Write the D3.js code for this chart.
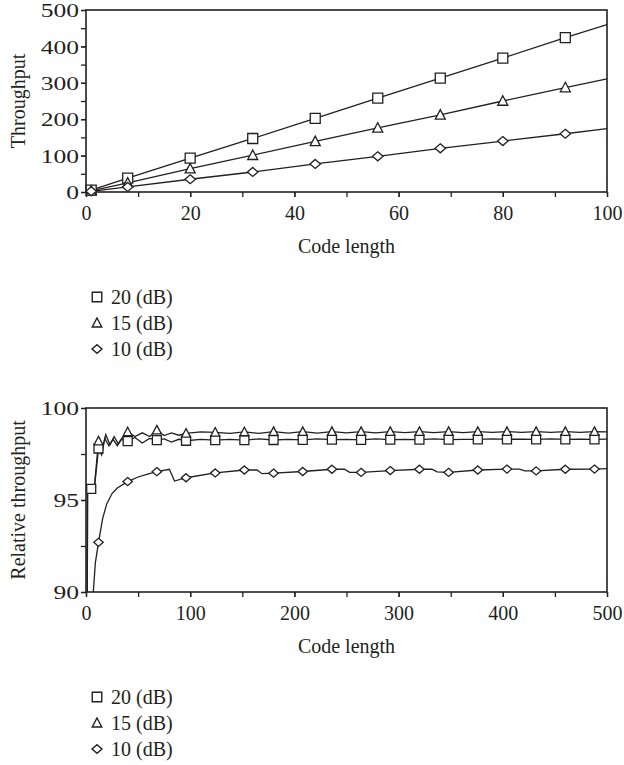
<!DOCTYPE html>
<html><head><meta charset="utf-8">
<script src="https://cdn.jsdelivr.net/npm/d3@7"></script>
<style>
html,body{margin:0;padding:0;background:#fff;}
svg text{font-family:"Liberation Serif","Times New Roman",serif;fill:#231f20;}
</style></head>
<body>
<svg id="c" width="624" height="765"></svg>
<script>
// ---------- DATA ----------
const seriesNames = ["20 (dB)", "15 (dB)", "10 (dB)"];
const seriesSymbols = ["square", "triangle", "diamond"];

// Top chart: Throughput vs code length
const topX      = [1, 8, 20, 32, 44, 56, 68, 80, 92, 100];
const topMarkerX = [1, 8, 20, 32, 44, 56, 68, 80, 92];
const top20dB   = [5, 38, 93, 147, 202, 258, 313, 368, 424, 460];
const top15dB   = [3, 25, 64, 101, 139, 176, 212, 250, 287, 311];
const top10dB   = [2, 14, 35, 55, 77, 98, 120, 140, 160, 174];
const topXTicks = [0, 20, 40, 60, 80, 100];
const topYTicks = [0, 100, 200, 300, 400, 500];

// Bottom chart: Relative throughput vs code length
const bot20X = [1, 1.5, 5, 8, 12, 15, 18, 22, 26, 30, 34, 40, 47, 54, 61, 68, 75, 82, 89, 96, 110, 124, 138, 152, 166, 180, 194, 208, 222, 236, 250, 264, 278, 292, 306, 320, 334, 348, 362, 376, 390, 404, 418, 432, 446, 460, 474, 488, 500];
const bot20Y = [85, 95.5, 95.6, 95.6, 97.8, 97.45, 98.35, 97.95, 98.3, 97.95, 98.3, 98.2, 98.4, 98.1, 98.35, 98.25, 98.32, 98.15, 98.3, 98.22, 98.3, 98.25, 98.3, 98.25, 98.32, 98.26, 98.3, 98.27, 98.32, 98.28, 98.3, 98.27, 98.32, 98.28, 98.3, 98.28, 98.32, 98.28, 98.3, 98.29, 98.32, 98.3, 98.31, 98.29, 98.32, 98.3, 98.31, 98.3, 98.31];
const bot15X = [1, 1.5, 8, 12, 15, 19, 23, 27, 31, 35, 40, 47, 54, 61, 68, 75, 82, 89, 96, 110, 124, 138, 152, 166, 180, 194, 208, 222, 236, 250, 264, 278, 292, 306, 320, 334, 348, 362, 376, 390, 404, 418, 432, 446, 460, 474, 488, 500];
const bot15Y = [85, 95.4, 95.7, 98.2, 97.6, 98.55, 98.0, 98.45, 98.05, 98.4, 98.7, 98.45, 98.65, 98.45, 98.8, 98.5, 98.65, 98.52, 98.62, 98.7, 98.68, 98.62, 98.7, 98.62, 98.72, 98.64, 98.72, 98.64, 98.72, 98.65, 98.72, 98.65, 98.72, 98.66, 98.72, 98.66, 98.72, 98.66, 98.72, 98.67, 98.72, 98.67, 98.72, 98.67, 98.72, 98.68, 98.72, 98.7];
const bot10X = [6, 7, 9, 12, 16, 20, 25, 30, 40, 50, 60, 68, 80, 85, 96, 124, 152, 164, 169, 180, 208, 236, 248, 253, 264, 292, 320, 332, 337, 348, 376, 404, 416, 421, 432, 460, 488, 500];
const bot10Y = [88, 90, 91.6, 92.7, 94.0, 94.8, 95.35, 95.65, 96.0, 96.25, 96.42, 96.54, 96.67, 96.03, 96.21, 96.47, 96.63, 96.63, 96.43, 96.46, 96.55, 96.67, 96.67, 96.5, 96.5, 96.6, 96.67, 96.67, 96.53, 96.5, 96.63, 96.68, 96.68, 96.58, 96.58, 96.67, 96.68, 96.7];
const bot20MarkerX = [5, 12, 40, 68, 96, 124, 152, 180, 208, 236, 264, 292, 320, 348, 376, 404, 432, 460, 488];
const botMarkerX   = [12, 40, 68, 96, 124, 152, 180, 208, 236, 264, 292, 320, 348, 376, 404, 432, 460, 488];
const botXTicks = [0, 100, 200, 300, 400, 500];
const botYTicks = [90, 95, 100];

// ---------- DRAWING ----------
const svg = d3.select("#c");
const INK = "#231f20";
const FS = 20;
const YFS = 18.5, YSX = 1.38;

function symPath(type, s) {
  const h = s / 2;
  if (type === "square") return `M${-h},${-h}H${h}V${h}H${-h}Z`;
  if (type === "triangle") return `M0,${-h*1.05}L${h*1.0},${h*0.85}L${-h*1.0},${h*0.85}Z`;
  return `M0,${-h*0.9}L${h*1.05},0L0,${h*0.9}L${-h*1.05},0Z`;
}

function panel(cfg) {
  const g = svg.append("g");
  const x = d3.scaleLinear().domain(cfg.xDomain).range([86, 607]);
  const y = d3.scaleLinear().domain(cfg.yDomain).range([cfg.bottom, cfg.top]);
  const id = "clip" + cfg.name;
  svg.append("clipPath").attr("id", id).append("rect")
    .attr("x", 86).attr("y", cfg.top).attr("width", 521).attr("height", cfg.bottom - cfg.top);

  const xa = g.append("g").attr("transform", `translate(0,${cfg.bottom})`)
    .call(d3.axisBottom(x).tickValues(cfg.xMinor).tickSize(5).tickSizeOuter(0).tickFormat(""));
  const xl = g.append("g").attr("transform", `translate(0,${cfg.bottom})`)
    .call(d3.axisBottom(x).tickValues(cfg.xTicks).tickSize(5).tickSizeOuter(0).tickFormat(d3.format("d")));
  const ya = g.append("g").attr("transform", `translate(86,0)`)
    .call(d3.axisLeft(y).tickValues(cfg.yMinor).tickSize(5).tickSizeOuter(0).tickFormat(""));
  const yl = g.append("g").attr("transform", `translate(86,0)`)
    .call(d3.axisLeft(y).tickValues(cfg.yTicks).tickSize(5).tickSizeOuter(0).tickFormat(d3.format("d")));
  [xa, xl, ya, yl].forEach(a => {
    a.select(".domain").remove();
    a.selectAll("line").attr("stroke", INK).attr("stroke-width", 1.3);
  });
  xl.selectAll("text").attr("y", 21).attr("dy", "0.35em").attr("font-size", FS)
    .attr("fill", INK).style("font-family", "Liberation Serif");
  yl.selectAll("text").attr("x", -7 / YSX).attr("dy", "0.36em").attr("font-size", YFS)
    .attr("transform", `scale(${YSX},1)`).attr("fill", INK).style("font-family", "Liberation Serif");

  g.append("rect").attr("x", 86).attr("y", cfg.top).attr("width", 521)
    .attr("height", cfg.bottom - cfg.top).attr("fill", "none")
    .attr("stroke", INK).attr("stroke-width", 1.6);

  g.append("text").attr("x", 346.5).attr("y", cfg.bottom + 54).attr("dy", "0.35em")
    .attr("text-anchor", "middle").attr("font-size", FS).text("Code length");
  g.append("text").attr("transform", `translate(18,${(cfg.top + cfg.bottom) / 2}) rotate(-90)`)
    .attr("dy", "0.35em").attr("text-anchor", "middle").attr("font-size", FS).text(cfg.yTitle);

  const line = d3.line().x(d => x(d[0])).y(d => y(d[1]));
  const lg = g.append("g").attr("clip-path", `url(#${id})`);
  cfg.series.forEach((s, i) => {
    const pts = s.x.map((v, k) => [v, s.y[k]]);
    lg.append("path").datum(pts).attr("d", line).attr("fill", "none")
      .attr("stroke", INK).attr("stroke-width", 1.3);
  });
  cfg.series.forEach((s, i) => {
    const pts = s.x.map((v, k) => [v, s.y[k]]).filter(p => s.markers.includes(p[0]));
    g.append("g").selectAll("path").data(pts).join("path")
      .attr("transform", d => `translate(${x(d[0])},${y(d[1])})`)
      .attr("d", symPath(seriesSymbols[i], cfg.markSize))
      .attr("fill", "#fff").attr("stroke", INK).attr("stroke-width", 1.3);
  });

  const leg = g.append("g");
  seriesNames.forEach((n, i) => {
    const cy = cfg.legendY + i * 26;
    leg.append("path").attr("transform", `translate(97,${cy})`)
      .attr("d", symPath(seriesSymbols[i], 9.5))
      .attr("fill", "#fff").attr("stroke", INK).attr("stroke-width", 1.4);
    leg.append("text").attr("x", 111).attr("y", cy).attr("dy", "0.35em")
      .attr("font-size", FS).text(n);
  });
}

panel({
  name: "top", xDomain: [0, 100], yDomain: [0, 500], top: 10, bottom: 192,
  xTicks: topXTicks, xMinor: d3.range(0, 101, 10), yTicks: topYTicks, yMinor: d3.range(0, 501, 50),
  yTitle: "Throughput", markSize: 10, legendY: 297,
  series: [
    {x: topX, y: top20dB, markers: topMarkerX},
    {x: topX, y: top15dB, markers: topMarkerX},
    {x: topX, y: top10dB, markers: topMarkerX}
  ]
});

panel({
  name: "bot", xDomain: [0, 500], yDomain: [90, 100], top: 408, bottom: 592,
  xTicks: botXTicks, xMinor: d3.range(0, 501, 50), yTicks: botYTicks, yMinor: [90, 92.5, 95, 97.5, 100],
  yTitle: "Relative throughput", markSize: 9, legendY: 697,
  series: [
    {x: bot20X, y: bot20Y, markers: bot20MarkerX},
    {x: bot15X, y: bot15Y, markers: botMarkerX},
    {x: bot10X, y: bot10Y, markers: botMarkerX}
  ]
});
</script>
</body></html>
